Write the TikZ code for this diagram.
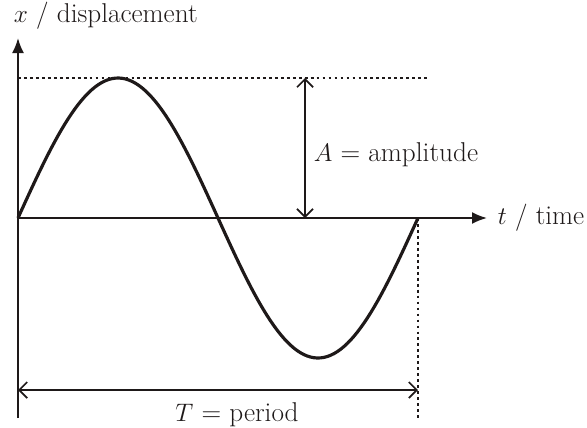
\documentclass[tikz,border=0pt]{standalone}
\usetikzlibrary{arrows.meta,positioning,calc}
\definecolor{ink}{RGB}{30,25,25}
\tikzset{
  >={Latex[length=3mm,width=2.4mm]},
  axis/.style={->,line width=1.1pt,draw=ink},
  wave/.style={line width=1.8pt,draw=ink},
  guide/.style={dash pattern=on 1.6pt off 1.8pt,line width=0.9pt,draw=ink},
  span/.style={{Straight Barb[length=1.6mm]}-{Straight Barb[length=1.6mm]},line width=1pt,draw=ink},
  lbl/.style={font=\fontsize{15.5}{18}\selectfont,text=ink,inner sep=2pt},
}
\begin{document}
\begin{tikzpicture}[x=0.02cm,y=0.02cm]
  \useasboundingbox (-18,-209) rectangle (569,218);
  % axes
  \coordinate (O) at (0,0);
  \coordinate (ytop) at (0,180);
  \coordinate (ybot) at (0,-200);
  \coordinate (xend) at (469,0);
  \draw[axis] (ybot) -- (ytop);
  \draw[axis] (O) -- (xend);
  % guides
  \coordinate (peak) at (0,140);
  \coordinate (dotend) at (410,140);
  \coordinate (Tend) at (400,0);
  \coordinate (Tbot) at (400,-202);
  \draw[guide] (peak) -- (dotend);
  \draw[guide] (Tend) -- (Tbot);
  % wave
  \draw[wave] plot[domain=0:400,samples=120] (\x,{140*sin(\x*0.9)});
  % amplitude and period
  \coordinate (ampbot) at (287,0);
  \coordinate (amptop) at (287,140);
  \coordinate (pleft) at (0,-172);
  \coordinate (pright) at (400,-172);
  \draw[span] (ampbot) -- (amptop);
  \draw[span] (pleft) -- (pright);
  % labels
  \node[lbl,anchor=base west] (xlab) at (-8,196) {$x$ / displacement};
  \node[lbl,right=4pt of xend] (tlab) {$t$ / time};
  \node[lbl,anchor=west] (alab) at (292,63) {$A$ = amplitude};
  \node[lbl,anchor=base] (Tlab) at (219,-203) {$T$ = period};
\end{tikzpicture}
\end{document}
